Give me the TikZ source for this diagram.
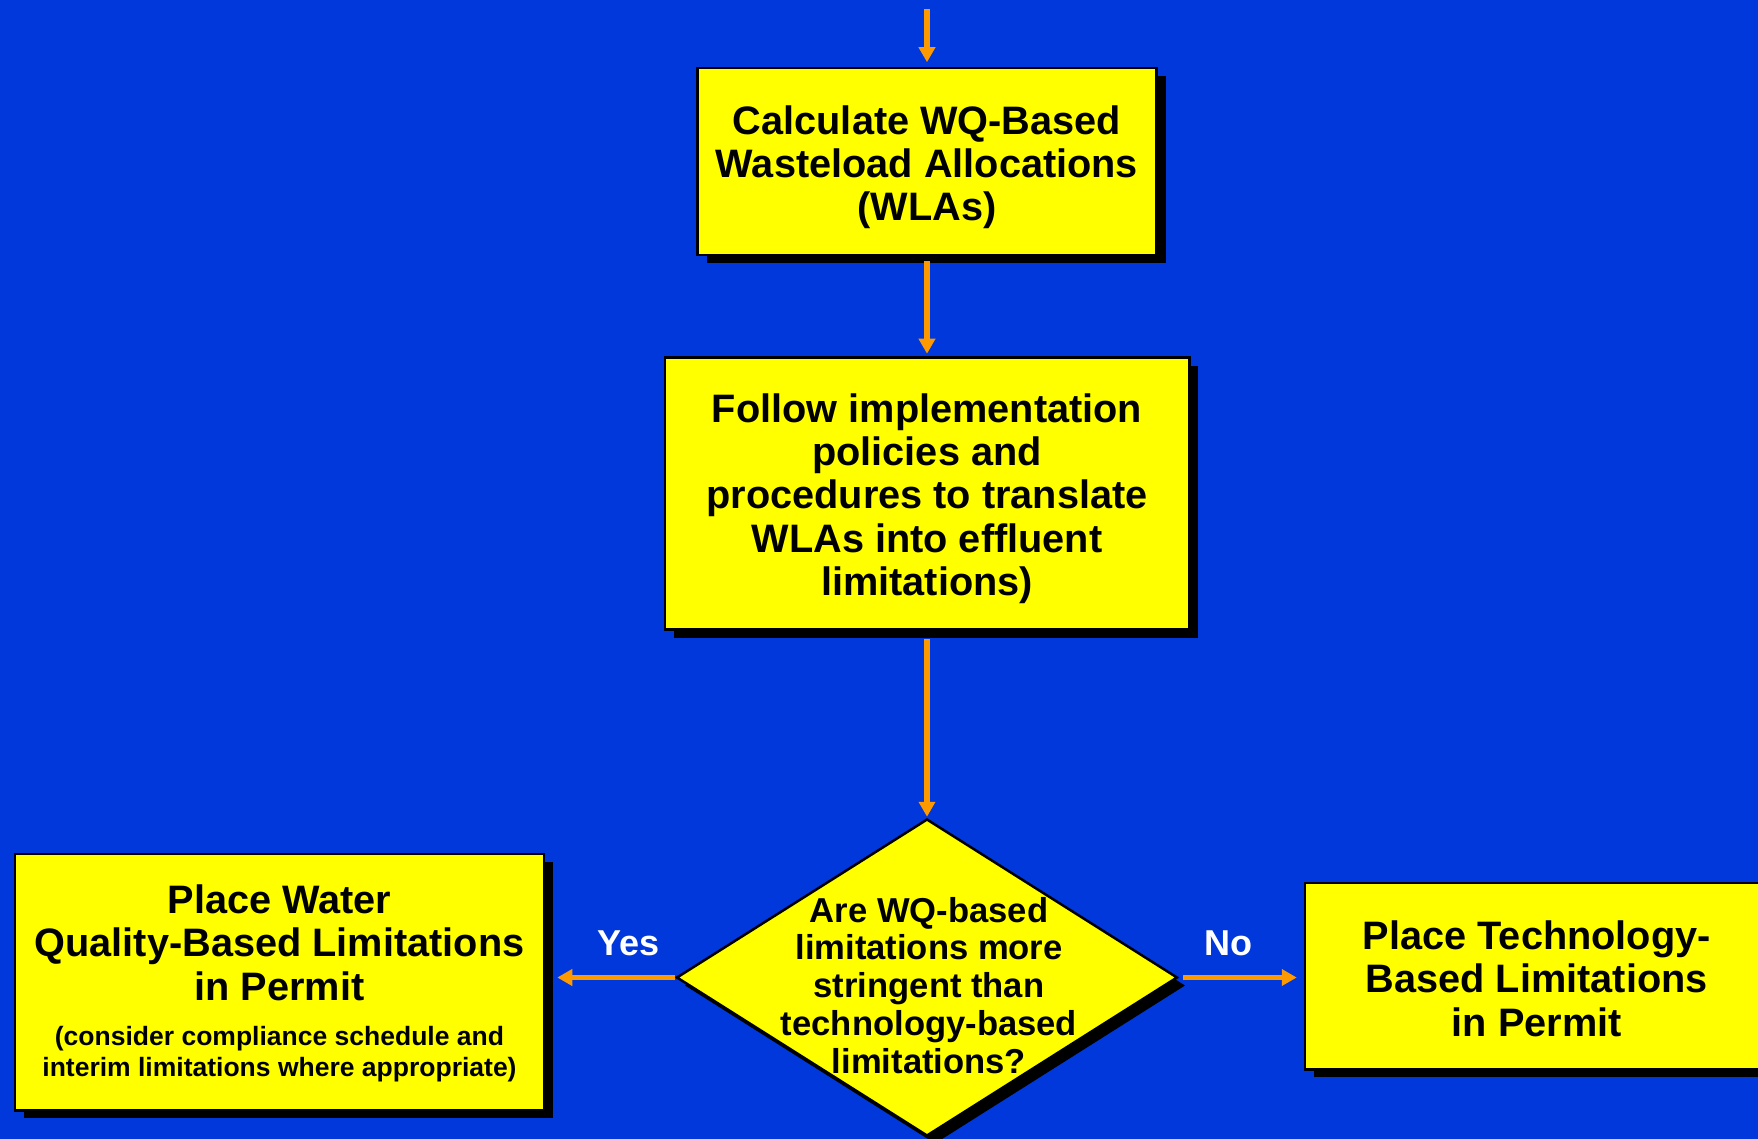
\documentclass[tikz,border=0pt]{standalone}
\usepackage{fontspec}
\setmainfont{Liberation Sans}
\usetikzlibrary{positioning, arrows.meta, shapes.geometric, shadows}

\definecolor{slideblue}{RGB}{0,56,220}
\definecolor{boxyellow}{RGB}{255,255,0}
\definecolor{flowarrow}{RGB}{255,153,0}

\newcommand{\flowfont}{\fontsize{39.7}{43.3}\selectfont\bfseries}
\newcommand{\notefont}{\fontsize{26.5}{31.6}\selectfont\bfseries}
\newcommand{\askfont}{\fontsize{34.6}{37.9}\selectfont\bfseries}
\newcommand{\branchfont}{\fontsize{36}{40}\selectfont\bfseries}

\begin{document}
\begin{tikzpicture}[
    x=1pt, y=-1pt,
    block/.style={draw=black, line width=2.5pt, fill=boxyellow, align=center, inner sep=0pt, font=\flowfont,
        text depth=0pt,
        drop shadow={shadow xshift=9pt, shadow yshift=-8pt, fill=black, opacity=1}},
    decision/.style={diamond, draw=black, line width=2.5pt, fill=boxyellow, inner sep=0pt,
        minimum width=501pt, minimum height=317pt,
        drop shadow={shadow xshift=8pt, shadow yshift=-8pt, fill=black, opacity=1}},
    arr/.style={-{Triangle[length=15pt, width=16pt]}, line width=5.5pt, draw=flowarrow},
    branch/.style={font=\branchfont, text=white, inner sep=0pt}
]

% Slide background
\fill[slideblue] (0,0) rectangle (1758,1139);
\useasboundingbox (0,0) rectangle (1758,1139);

% Incoming arrow
\coordinate (entry) at (927,9);

% WLA calculation
\node[block, text height=119pt, minimum width=459pt, minimum height=187pt] (wla) at (927,161.5)
    {Calculate WQ-Based\\Wasteload Allocations\\(WLAs)};

% Implementation policies
\node[block, text height=204pt, minimum width=524.5pt, minimum height=272pt, below=100pt of wla] (translate)
    {Follow implementation\\policies and\\procedures to translate\\WLAs into effluent\\limitations)};

% Decision
\node[decision, below=187pt of translate] (decide) {};
\node[font=\askfont, align=center, inner sep=0pt, xshift=2pt, yshift=-8pt] (asktext) at (decide)
    {Are WQ-based\\limitations more\\stringent than\\technology-based\\limitations?};

% Water quality-based limits
\node[block, text depth=34pt, minimum width=529pt, minimum height=256.5pt, left=130pt of decide, yshift=-4.5pt] (wqlimits)
    {Place Water\\Quality-Based Limitations\\in Permit\\[2pt]
     {\notefont\begin{tabular}[t]{@{}c@{}}(consider compliance schedule and\\interim limitations where appropriate)\end{tabular}}};

% Technology-based limits
\node[block, text height=120pt, minimum width=463.5pt, minimum height=186.5pt, right=125pt of decide, yshift=1.5pt] (techlimits)
    {Place Technology-\\Based Limitations\\in Permit};

% Arrows
\draw[arr, shorten >=4.5pt] (entry) -- (wla);
\draw[arr, shorten <=5pt, shorten >=2.5pt] (wla) -- (translate);
\draw[arr, shorten <=8pt, shorten >=1pt] (translate) -- (decide);
\draw[arr, shorten >=12pt] (decide.west) -- (decide.west -| wqlimits.east)
    node[branch, pos=0.36, above=18.5pt] (yes) {Yes};
\draw[arr, shorten <=4pt, shorten >=7pt] (decide.east) -- (decide.east -| techlimits.west)
    node[branch, pos=0.4, above=18.5pt] (no) {No};

\end{tikzpicture}
\end{document}
